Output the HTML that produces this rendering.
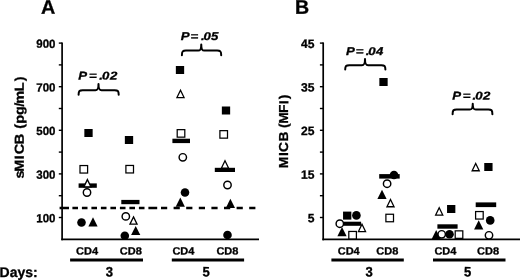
<!DOCTYPE html><html><head><meta charset="utf-8"><title>Figure</title><style>html,body{margin:0;padding:0;background:#fff}svg{display:block;filter:blur(0.45px)}text{font-family:"Liberation Sans",sans-serif;font-weight:bold;fill:#000;stroke:#000;stroke-width:0.3px}</style></head><body>
<svg width="520" height="280" viewBox="0 0 520 280">
<rect width="520" height="280" fill="#fff"/>
<text transform="matrix(1,0.002,0,1,41.1,13.7)" font-size="19.8" text-anchor="start" >A</text>
<line x1="62.1" y1="42.4" x2="62.1" y2="240.3" stroke="#000" stroke-width="1.7"/>
<line x1="61.30" y1="239.45" x2="259" y2="239.45" stroke="#000" stroke-width="1.7"/>
<line x1="58.80" y1="43.10" x2="62.1" y2="43.10" stroke="#000" stroke-width="1.4"/>
<line x1="58.80" y1="64.90" x2="62.1" y2="64.90" stroke="#000" stroke-width="1.4"/>
<line x1="58.80" y1="86.70" x2="62.1" y2="86.70" stroke="#000" stroke-width="1.4"/>
<line x1="58.80" y1="108.50" x2="62.1" y2="108.50" stroke="#000" stroke-width="1.4"/>
<line x1="58.80" y1="130.30" x2="62.1" y2="130.30" stroke="#000" stroke-width="1.4"/>
<line x1="58.80" y1="152.10" x2="62.1" y2="152.10" stroke="#000" stroke-width="1.4"/>
<line x1="58.80" y1="173.90" x2="62.1" y2="173.90" stroke="#000" stroke-width="1.4"/>
<line x1="58.80" y1="195.70" x2="62.1" y2="195.70" stroke="#000" stroke-width="1.4"/>
<line x1="58.80" y1="217.50" x2="62.1" y2="217.50" stroke="#000" stroke-width="1.4"/>
<text transform="matrix(0.975,0.002,0,1,55.5,47.90)" font-size="11.8" text-anchor="end">900</text>
<text transform="matrix(0.975,0.002,0,1,55.5,91.50)" font-size="11.8" text-anchor="end">700</text>
<text transform="matrix(0.975,0.002,0,1,55.5,135.10)" font-size="11.8" text-anchor="end">500</text>
<text transform="matrix(0.975,0.002,0,1,55.5,178.70)" font-size="11.8" text-anchor="end">300</text>
<text transform="matrix(0.975,0.002,0,1,55.5,222.30)" font-size="11.8" text-anchor="end">100</text>
<text transform="matrix(0.00223,-1.115,1,0,23.7,178.39)" font-size="13" x="0.00 6.05 17.28 21.57 30.58 39.83 44.50 49.08 56.95 64.23 67.01 78.16 87.11">sMICB (pg/mL)</text>
<path d="M59.6,208.1H69.0 M72.4,208.1H78.0 M81.9,208.1H87.5 M91.4,208.1H97.0 M100.9,208.1H106.5 M110.4,208.1H116.0 M119.9,208.1H125.5 M129.4,208.1H135.0 M138.9,208.1H144.5 M148.4,208.1H157.2 M161.0,208.1H167.2 M173.6,208.1H179.8 M186.2,208.1H192.4 M198.8,208.1H205.0 M211.4,208.1H217.6 M224.0,208.1H230.2 M236.6,208.1H242.8 M249.2,208.1H255.4" stroke="#000" stroke-width="2.5" fill="none"/>
<rect x="84.35" y="129.00" width="8.3" height="8.0" fill="#000"/>
<rect x="80.00" y="165.55" width="7.6" height="7.5" fill="#fff" stroke="#000" stroke-width="1.25"/>
<rect x="78.6" y="183.4" width="18.200000000000003" height="4.400000000000006" fill="#000"/>
<polygon points="87.40,179.60 90.95,186.85 83.85,186.85" fill="#fff" stroke="#000" stroke-width="1.3" stroke-linejoin="miter"/>
<circle cx="87" cy="192.5" r="3.7" fill="#fff" stroke="#000" stroke-width="1.45"/>
<circle cx="81.5" cy="222.5" r="4.3" fill="#000"/>
<polygon points="93.00,217.30 97.60,226.50 88.40,226.50" fill="#000"/>
<rect x="124.85" y="136.00" width="8.3" height="8.0" fill="#000"/>
<rect x="125.90" y="165.45" width="7.6" height="7.5" fill="#fff" stroke="#000" stroke-width="1.25"/>
<rect x="121.3" y="199.9" width="18.200000000000003" height="4.299999999999983" fill="#000"/>
<circle cx="125.8" cy="216.4" r="3.7" fill="#fff" stroke="#000" stroke-width="1.45"/>
<polygon points="133.50,216.90 137.05,224.15 129.95,224.15" fill="#fff" stroke="#000" stroke-width="1.3" stroke-linejoin="miter"/>
<polygon points="135.70,225.90 140.30,235.10 131.10,235.10" fill="#000"/>
<circle cx="124.8" cy="235.7" r="4.3" fill="#000"/>
<rect x="175.85" y="66.00" width="8.3" height="8.0" fill="#000"/>
<polygon points="180.50,90.30 184.05,97.55 176.95,97.55" fill="#fff" stroke="#000" stroke-width="1.3" stroke-linejoin="miter"/>
<rect x="177.20" y="129.65" width="7.6" height="7.5" fill="#fff" stroke="#000" stroke-width="1.25"/>
<rect x="172.4" y="138.7" width="17.599999999999994" height="4.400000000000006" fill="#000"/>
<circle cx="182.8" cy="157.3" r="3.7" fill="#fff" stroke="#000" stroke-width="1.45"/>
<circle cx="185" cy="192.5" r="4.3" fill="#000"/>
<polygon points="180.30,197.50 184.90,206.70 175.70,206.70" fill="#000"/>
<rect x="221.85" y="106.50" width="8.3" height="8.0" fill="#000"/>
<rect x="219.90" y="130.65" width="7.6" height="7.5" fill="#fff" stroke="#000" stroke-width="1.25"/>
<rect x="214.8" y="167.8" width="20.19999999999999" height="4.199999999999989" fill="#000"/>
<polygon points="225.00,160.80 228.55,168.05 221.45,168.05" fill="#fff" stroke="#000" stroke-width="1.3" stroke-linejoin="miter"/>
<circle cx="227.5" cy="185" r="3.7" fill="#fff" stroke="#000" stroke-width="1.45"/>
<polygon points="230.40,198.80 235.00,208.00 225.80,208.00" fill="#000"/>
<circle cx="227.5" cy="235" r="4.3" fill="#000"/>
<text transform="matrix(1.05,0.002,0,1,87,254.6)" font-size="10.5" text-anchor="middle">CD4</text>
<text transform="matrix(1.05,0.002,0,1,130.8,254.6)" font-size="10.5" text-anchor="middle">CD8</text>
<text transform="matrix(1.05,0.002,0,1,183.4,254.6)" font-size="10.5" text-anchor="middle">CD4</text>
<text transform="matrix(1.05,0.002,0,1,227.4,254.6)" font-size="10.5" text-anchor="middle">CD8</text>
<rect x="70.1" y="258.5" width="72.9" height="3.0" fill="#000"/>
<rect x="171.8" y="258.5" width="72.29999999999998" height="3.0" fill="#000"/>
<text transform="matrix(0.95,0.002,0,1,109.5,276.6)" font-size="13.8" text-anchor="middle">3</text>
<text transform="matrix(0.95,0.002,0,1,206.2,276.6)" font-size="13.8" text-anchor="middle">5</text>
<text transform="matrix(1,0.002,0,1,-0.4,277)" font-size="14" text-anchor="start" >Days:</text>
<text transform="matrix(1.17,0.002,0,1,78.27,79.45)" font-size="11.3" font-style="italic" stroke-width="0.5" x="0.00 9.21 17.90 20.30 27.08">P=.02</text>
<path d="M78.6,94.7 C78.6,90.7 79.6,90.2 82.6,90.2 L95.5,90.2 C97.7,90.2 98.5,89.2 98.5,83.9 C98.5,89.2 99.3,90.2 101.5,90.2 L114.7,90.2 C117.7,90.2 118.7,90.7 118.7,94.7" fill="none" stroke="#000" stroke-width="2.0" stroke-linecap="round" stroke-linejoin="round"/>
<text transform="matrix(1.17,0.002,0,1,180.77,39.95)" font-size="11.3" font-style="italic" stroke-width="0.5" x="0.00 8.27 17.21 19.53 25.91">P=.05</text>
<path d="M181.9,55.2 C181.9,51.1 182.9,50.6 185.9,50.6 L198.25,50.6 C200.45,50.6 201.25,49.6 201.25,44.5 C201.25,49.6 202.05,50.6 204.25,50.6 L217.2,50.6 C220.2,50.6 221.2,51.1 221.2,55.2" fill="none" stroke="#000" stroke-width="2.0" stroke-linecap="round" stroke-linejoin="round"/>
<text transform="matrix(1,0.002,0,1,295.0,13.7)" font-size="19.6" text-anchor="start" >B</text>
<line x1="323.2" y1="42.4" x2="323.2" y2="240.3" stroke="#000" stroke-width="1.7"/>
<line x1="322.40" y1="239.45" x2="520" y2="239.45" stroke="#000" stroke-width="1.7"/>
<line x1="319.90" y1="43.10" x2="323.2" y2="43.10" stroke="#000" stroke-width="1.4"/>
<line x1="319.90" y1="64.90" x2="323.2" y2="64.90" stroke="#000" stroke-width="1.4"/>
<line x1="319.90" y1="86.70" x2="323.2" y2="86.70" stroke="#000" stroke-width="1.4"/>
<line x1="319.90" y1="108.50" x2="323.2" y2="108.50" stroke="#000" stroke-width="1.4"/>
<line x1="319.90" y1="130.30" x2="323.2" y2="130.30" stroke="#000" stroke-width="1.4"/>
<line x1="319.90" y1="152.10" x2="323.2" y2="152.10" stroke="#000" stroke-width="1.4"/>
<line x1="319.90" y1="173.90" x2="323.2" y2="173.90" stroke="#000" stroke-width="1.4"/>
<line x1="319.90" y1="195.70" x2="323.2" y2="195.70" stroke="#000" stroke-width="1.4"/>
<line x1="319.90" y1="217.50" x2="323.2" y2="217.50" stroke="#000" stroke-width="1.4"/>
<text transform="matrix(1.0,0.002,0,1,314.4,47.90)" font-size="12.1" text-anchor="end">45</text>
<text transform="matrix(1.0,0.002,0,1,314.4,91.50)" font-size="12.1" text-anchor="end">35</text>
<text transform="matrix(1.0,0.002,0,1,314.4,135.10)" font-size="12.1" text-anchor="end">25</text>
<text transform="matrix(1.0,0.002,0,1,314.4,178.70)" font-size="12.1" text-anchor="end">15</text>
<text transform="matrix(1.0,0.002,0,1,314.4,222.30)" font-size="12.1" text-anchor="end">5</text>
<text transform="matrix(0.00212,-1.062,1,0,288.0,168.25)" font-size="13" x="0.00 11.56 15.41 25.11 34.38 37.87 41.81 52.00 60.39 65.06">MICB (MFI)</text>
<rect x="343.05" y="211.60" width="8.3" height="8.0" fill="#000"/>
<circle cx="356.4" cy="215.4" r="4.3" fill="#000"/>
<rect x="343.3" y="221.7" width="17.80000000000001" height="4.100000000000023" fill="#000"/>
<circle cx="339.8" cy="223.7" r="3.7" fill="#fff" stroke="#000" stroke-width="1.45"/>
<polygon points="362.00,224.30 365.55,231.55 358.45,231.55" fill="#fff" stroke="#000" stroke-width="1.3" stroke-linejoin="miter"/>
<polygon points="342.00,227.10 346.60,236.30 337.40,236.30" fill="#000"/>
<rect x="348.80" y="231.45" width="7.6" height="7.5" fill="#fff" stroke="#000" stroke-width="1.25"/>
<circle cx="394" cy="175" r="4.3" fill="#000"/>
<rect x="379.2" y="174.1" width="20.5" height="4.5" fill="#000"/>
<circle cx="387.1" cy="183.7" r="3.7" fill="#fff" stroke="#000" stroke-width="1.45"/>
<polygon points="382.00,189.80 386.60,199.00 377.40,199.00" fill="#000"/>
<polygon points="390.50,199.50 394.05,206.75 386.95,206.75" fill="#fff" stroke="#000" stroke-width="1.3" stroke-linejoin="miter"/>
<rect x="385.90" y="214.25" width="7.6" height="7.5" fill="#fff" stroke="#000" stroke-width="1.25"/>
<rect x="379.35" y="78.00" width="8.3" height="8.0" fill="#000"/>
<polygon points="439.20,207.80 442.75,215.05 435.65,215.05" fill="#fff" stroke="#000" stroke-width="1.3" stroke-linejoin="miter"/>
<rect x="447.05" y="205.00" width="8.3" height="8.0" fill="#000"/>
<rect x="437.4" y="224.3" width="20.200000000000045" height="4.399999999999977" fill="#000"/>
<polygon points="436.20,230.10 440.80,239.30 431.60,239.30" fill="#000"/>
<circle cx="441.7" cy="234.3" r="3.7" fill="#fff" stroke="#000" stroke-width="1.45"/>
<circle cx="449.5" cy="234.3" r="4.3" fill="#000"/>
<rect x="455.20" y="230.85" width="7.6" height="7.5" fill="#fff" stroke="#000" stroke-width="1.25"/>
<polygon points="475.70,163.50 479.25,170.75 472.15,170.75" fill="#fff" stroke="#000" stroke-width="1.3" stroke-linejoin="miter"/>
<rect x="484.25" y="163.00" width="8.3" height="8.0" fill="#000"/>
<rect x="475.7" y="202.4" width="20.5" height="4.699999999999989" fill="#000"/>
<rect x="475.60" y="211.55" width="7.6" height="7.5" fill="#fff" stroke="#000" stroke-width="1.25"/>
<circle cx="490.2" cy="220.4" r="4.3" fill="#000"/>
<polygon points="478.70,220.30 483.30,229.50 474.10,229.50" fill="#000"/>
<circle cx="489.0" cy="235.3" r="3.7" fill="#fff" stroke="#000" stroke-width="1.45"/>
<text transform="matrix(1.05,0.002,0,1,348.7,254.6)" font-size="10.5" text-anchor="middle">CD4</text>
<text transform="matrix(1.05,0.002,0,1,387.3,254.6)" font-size="10.5" text-anchor="middle">CD8</text>
<text transform="matrix(1.05,0.002,0,1,445.4,254.6)" font-size="10.5" text-anchor="middle">CD4</text>
<text transform="matrix(1.05,0.002,0,1,488,254.6)" font-size="10.5" text-anchor="middle">CD8</text>
<rect x="331.4" y="258.5" width="72.40000000000003" height="3.0" fill="#000"/>
<rect x="433" y="258.5" width="72.5" height="3.0" fill="#000"/>
<text transform="matrix(0.95,0.002,0,1,369.2,276.6)" font-size="13.8" text-anchor="middle">3</text>
<text transform="matrix(0.95,0.002,0,1,467.6,276.6)" font-size="13.8" text-anchor="middle">5</text>
<text transform="matrix(1.17,0.002,0,1,346.07,54.95)" font-size="11.3" font-style="italic" stroke-width="0.5" x="0.00 8.31 16.74 18.93 25.67">P=.04</text>
<path d="M345.2,69.6 C345.2,65.7 346.2,65.2 349.2,65.2 L362.0,65.2 C364.2,65.2 365,64.2 365,58.9 C365,64.2 365.8,65.2 368.0,65.2 L381.4,65.2 C384.4,65.2 385.4,65.7 385.4,69.6" fill="none" stroke="#000" stroke-width="2.0" stroke-linecap="round" stroke-linejoin="round"/>
<text transform="matrix(1.17,0.002,0,1,452.22,99.45)" font-size="11.3" font-style="italic" stroke-width="0.5" x="0.00 8.91 17.34 19.66 26.35">P=.02</text>
<path d="M452.6,114.3 C452.6,110.0 453.6,109.5 456.6,109.5 L469.75,109.5 C471.95,109.5 472.75,108.5 472.75,103.8 C472.75,108.5 473.55,109.5 475.75,109.5 L488.4,109.5 C491.4,109.5 492.4,110.0 492.4,114.3" fill="none" stroke="#000" stroke-width="2.0" stroke-linecap="round" stroke-linejoin="round"/>
</svg></body></html>
